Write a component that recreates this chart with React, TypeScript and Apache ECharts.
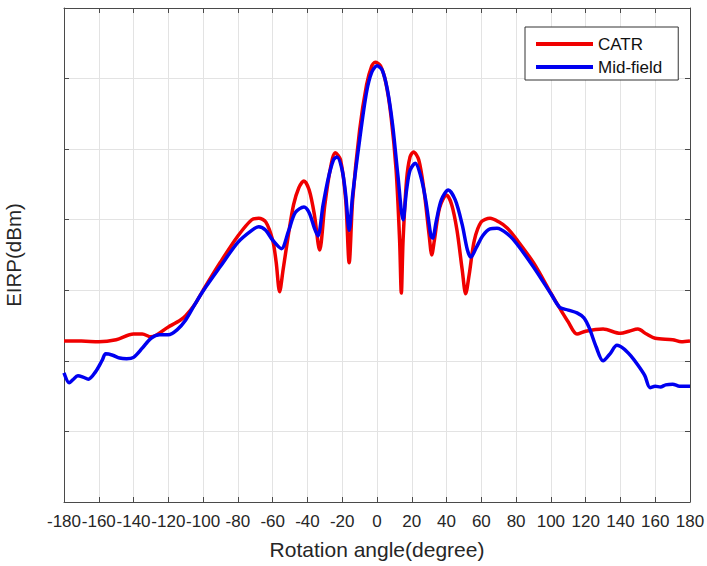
import React, { useEffect, useRef } from "react";
import * as echarts from "echarts";

// Rotation angle (degree) and EIRP (dBm)
const catrAngles = [
  -180, -170, -160, -150, -140, -135, -130, -120, -113, -110, -105, -100, -90, -80, -72, -68, -64, -60, -58, -56,
  -54, -51, -48, -45, -42, -39, -36, -33, -30, -27, -24, -21, -18, -16, -14, -10, -6, -3, -1, 2, 5, 8, 11, 13, 14,
  15, 17, 19, 21, 24, 27, 30, 31.5, 33, 36, 40, 43, 46, 49, 51, 53, 56, 60, 65, 70, 75, 80, 90, 100, 105, 110, 115,
  120, 130, 140, 145, 150, 155, 160, 170, 175, 180,
];
const catrValues = [
  -37.2, -37.2, -37.3, -37.0, -36.2, -36.2, -36.6, -35.2, -34.2, -33.6, -32.1, -30.0, -26.0, -22.3, -20.0, -19.8,
  -20.3, -22.9, -26.0, -30.2, -27.1, -22.2, -17.9, -15.5, -14.5, -15.8, -19.3, -24.3, -17.9, -13.0, -10.5, -11.5,
  -17.2, -26.1, -17.2, -7.3, -0.9, 1.8, 2.3, 1.8, -0.5, -5.2, -13.0, -22.9, -30.4, -22.9, -14.4, -11.1, -10.4, -11.5,
  -15.8, -22.2, -25.0, -22.9, -18.3, -16.5, -17.9, -21.5, -27.1, -30.5, -27.8, -22.9, -20.3, -19.8, -20.3, -21.2,
  -22.7, -26.1, -30.4, -32.5, -34.5, -36.2, -35.8, -35.5, -36.1, -35.8, -35.5, -36.2, -36.8, -37.0, -37.3, -37.2,
];

const midAngles = [
  -180, -177, -175, -172, -169, -166, -162, -158, -156, -152, -148, -144, -140, -135, -130, -125, -120, -115, -110,
  -105, -100, -90, -80, -72, -68, -64, -60, -55, -51, -47, -42, -39, -36, -34, -31, -28, -25, -23, -20, -18, -16,
  -14, -10, -6, -3, 0, 3, 6, 9, 12, 15, 17, 19, 22, 25, 28, 31, 32, 34, 37, 41, 45, 49, 52, 54, 57, 61, 65, 69, 75,
  80, 90, 100, 105, 110, 115, 119, 122, 126, 130, 134, 138, 142, 146, 150, 154, 157, 160, 163, 166, 170, 174, 178,
  180,
];
const midValues = [
  -41.7, -43.1, -42.7, -42.1, -42.3, -42.6, -41.6, -39.9, -39.0, -39.2, -39.6, -39.7, -39.5, -38.2, -36.8, -36.3,
  -36.3, -35.6, -34.2, -32.1, -30.1, -26.6, -23.2, -21.5, -21.0, -21.5, -22.9, -24.1, -21.7, -19.0, -18.2, -19.0,
  -21.2, -22.3, -17.9, -14.1, -11.5, -11.1, -13.0, -16.5, -21.5, -16.5, -8.7, -1.9, 0.9, 1.8, 1.2, -1.6, -6.6,
  -13.7, -20.0, -15.8, -13.0, -12.0, -13.7, -17.2, -22.3, -22.6, -20.3, -17.2, -15.8, -17.2, -20.7, -24.3, -25.3,
  -24.0, -22.2, -21.3, -21.2, -22.0, -23.3, -26.7, -30.5, -32.4, -32.8, -33.2, -33.9, -35.3, -38.0, -40.0, -39.0,
  -37.8, -38.3, -39.3, -40.6, -42.1, -43.8, -43.6, -43.7, -43.4, -43.3, -43.6, -43.6, -43.6,
];

const xTicks = { min: -180, max: 180, interval: 20 };
const yTicks = { min: -60, max: 10, interval: 10 };

const FONT = "'Liberation Sans', Arial, Helvetica, sans-serif";

export default function App() {
  const ref = useRef<HTMLDivElement>(null);
  useEffect(() => {
    if (!ref.current) return;
    const chart = echarts.init(ref.current, undefined, { renderer: "svg" });
    const catr = catrAngles.map((a, i) => [a, catrValues[i]]);
    const mid = midAngles.map((a, i) => [a, midValues[i]]);
    const axisLine = { show: true, onZero: false, lineStyle: { color: "#4a4a4a", width: 1 } };
    const tick = { show: true, inside: true, length: 5, lineStyle: { color: "#4a4a4a" } };
    chart.setOption({
      animation: false,
      backgroundColor: "#fff",
      textStyle: { fontFamily: FONT },
      grid: { left: 64, right: 17, top: 8, bottom: 64, containLabel: false, outerBoundsMode: "none" },
      legend: {
        left: 525,
        top: 27,
        orient: "vertical",
        icon: "rect",
        itemWidth: 57,
        itemHeight: 4,
        itemGap: 3,
        padding: [7, 16, 3, 11],
        borderColor: "#333",
        borderWidth: 1,
        backgroundColor: "#fff",
        textStyle: { fontSize: 17, color: "#111", lineHeight: 20, fontFamily: FONT },
        data: ["CATR", "Mid-field"],
      },
      xAxis: [
        {
          type: "value",
          position: "bottom",
          min: xTicks.min,
          max: xTicks.max,
          interval: xTicks.interval,
          axisLine,
          axisTick: tick,
          axisLabel: {
            fontSize: 17,
            color: "#262626",
            margin: 11,
            fontFamily: FONT,
            showMinLabel: true,
            showMaxLabel: true,
            hideOverlap: false,
          },
          splitLine: { show: true, lineStyle: { color: "#e3e3e3", width: 1 } },
          name: "Rotation angle(degree)",
          nameLocation: "middle",
          nameGap: 37,
          nameTextStyle: { fontSize: 21, color: "#262626", fontFamily: FONT },
        },
        {
          type: "value",
          position: "top",
          min: xTicks.min,
          max: xTicks.max,
          interval: xTicks.interval,
          axisLine,
          axisTick: tick,
          axisLabel: { show: false },
          splitLine: { show: false },
        },
      ],
      yAxis: [
        {
          type: "value",
          position: "left",
          min: yTicks.min,
          max: yTicks.max,
          interval: yTicks.interval,
          axisLine,
          axisTick: tick,
          axisLabel: { show: false },
          splitLine: { show: true, lineStyle: { color: "#e3e3e3", width: 1 } },
          name: "EIRP(dBm)",
          nameLocation: "middle",
          nameGap: 40,
          nameTextStyle: { fontSize: 20.5, color: "#262626", fontFamily: FONT },
        },
        {
          type: "value",
          position: "right",
          min: yTicks.min,
          max: yTicks.max,
          interval: yTicks.interval,
          axisLine,
          axisTick: tick,
          axisLabel: { show: false },
          splitLine: { show: false },
        },
      ],
      series: [
        {
          name: "CATR",
          type: "line",
          data: catr,
          smooth: 0.3,
          showSymbol: false,
          symbol: "none",
          color: "#f00000",
          lineStyle: { color: "#f00000", width: 3.5 },
          z: 2,
        },
        {
          name: "Mid-field",
          type: "line",
          data: mid,
          smooth: 0.3,
          showSymbol: false,
          symbol: "none",
          color: "#0000f0",
          lineStyle: { color: "#0000f0", width: 3.5 },
          z: 3,
        },
      ],
    });
    return () => chart.dispose();
  }, []);
  return <div ref={ref} style={{ position: "absolute", left: 0, top: 0, width: 707, height: 566 }} />;
}
